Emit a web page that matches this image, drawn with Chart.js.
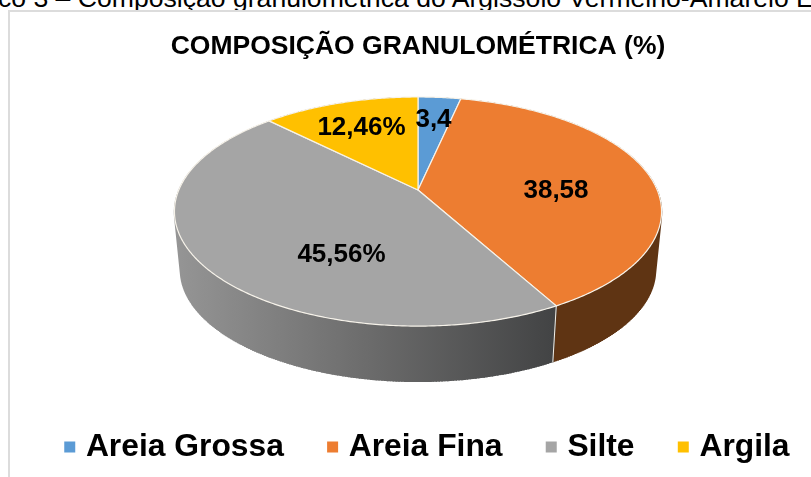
<!DOCTYPE html>
<html lang="pt">
<head>
    <meta charset="UTF-8">
    <title>Composição granulométrica</title>
    <script src="https://cdn.jsdelivr.net/npm/chart.js"></script>
    <style>
        html, body { margin: 0; padding: 0; width: 811px; height: 477px; overflow: hidden; background: #fff; }
        #caption { position: absolute; left: -8px; top: -17px; width: 840px; white-space: nowrap; overflow: hidden;
                   font: 26.6px "Liberation Sans", Arial, sans-serif; color: #000; }
        #frame { position: absolute; left: 8px; top: 10px; width: 830px; height: 480px; box-sizing: border-box;
                 border: 2px solid #dcdcdc; background: #fff; }
        #wrap { position: absolute; left: 0; top: 0; width: 836px; height: 477px; }
    </style>
</head>
<body>
    <div id="caption">ico 3 – Composição granulométrica do Argissolo Vermelho-Amarelo E</div>
    <div id="frame"></div>
    <div id="wrap"><canvas id="pie"></canvas></div>

    <script>
        const categories = ['Areia Grossa', 'Areia Fina', 'Silte', 'Argila'];
        const values = [3.4, 38.58, 45.56, 12.46];
        const valueLabels = ['3,4', '38,58', '45,56%', '12,46%'];
        const topColors = ['#5B9BD5', '#ED7D31', '#A5A5A5', '#FFC000'];

        // perspective disc, fitted to the picture
        const cx = 418, cy = 190, rx = 239.2, ry = 110.5, tilt = 0.188;
        const shrink = 0.975, vanishY = 2566;
        const labelSpots = [[433.5, 120], [556, 191], [341.5, 255], [361.5, 128]];

        function rim(angle, bottom) {
            const u = Math.cos(angle), v = -Math.sin(angle);
            const d = 1 + tilt * v;
            let x = cx + rx * u / d, y = cy - ry * v / d;
            if (bottom) {
                x = cx + shrink * (x - cx);
                y = vanishY + shrink * (y - vanishY);
            }
            return [x, y];
        }

        function traceArc(ctx, a0, a1, bottom, first) {
            const n = Math.max(2, Math.ceil(Math.abs(a1 - a0) / 0.01));
            for (let i = 0; i <= n; i++) {
                const p = rim(a0 + (a1 - a0) * i / n, bottom);
                if (i === 0 && first) ctx.moveTo(p[0], p[1]); else ctx.lineTo(p[0], p[1]);
            }
        }

        function wallFill(ctx, i) {
            const g = ctx.createLinearGradient(176, 0, 556, 0);
            if (i === 2) {
                g.addColorStop(0, '#959595');
                g.addColorStop(0.5, '#6c6c6c');
                g.addColorStop(1, '#424344');
            } else {
                g.addColorStop(0, '#5c3112');
                g.addColorStop(1, '#5f3413');
            }
            return g;
        }

        const disc3d = {
            id: 'disc3d',
            afterLayout(chart) {
                // legend row sits further right and higher than the library puts it
                const lg = chart.legend;
                lg.left += 21; lg.right += 21;
                lg.top -= 4; lg.bottom -= 4;
            },
            beforeDatasetDraw(chart, args) {
                const ctx = chart.ctx;
                const arcs = args.meta.data;
                ctx.save();
                // side walls first, the top face hides the back ones
                arcs.forEach((arc, i) => {
                    ctx.fillStyle = ctx.strokeStyle = wallFill(ctx, i);
                    ctx.lineWidth = 1.5;
                    ctx.beginPath();
                    traceArc(ctx, arc.startAngle, arc.endAngle, false, true);
                    traceArc(ctx, arc.endAngle, arc.startAngle, true, false);
                    ctx.closePath();
                    ctx.fill();
                    // verticals fill out the silhouette at the far left and right
                    ctx.beginPath();
                    for (let a = arc.startAngle; a < arc.endAngle; a += 0.01) {
                        const p = rim(a, false), q = rim(a, true);
                        ctx.moveTo(p[0], p[1]);
                        ctx.lineTo(q[0], q[1]);
                    }
                    ctx.stroke();
                });
                arcs.forEach(arc => {
                    const a = rim(arc.startAngle, false), b = rim(arc.startAngle, true);
                    ctx.beginPath();
                    ctx.moveTo(a[0], a[1]); ctx.lineTo(b[0], b[1]);
                    ctx.strokeStyle = '#f4efe6';
                    ctx.lineWidth = 1;
                    ctx.stroke();
                });
                // top faces
                arcs.forEach((arc, i) => {
                    ctx.beginPath();
                    ctx.moveTo(cx, cy);
                    traceArc(ctx, arc.startAngle, arc.endAngle, false, false);
                    ctx.closePath();
                    ctx.fillStyle = topColors[i];
                    ctx.fill();
                    ctx.strokeStyle = '#f7f3ea';
                    ctx.lineWidth = 1.2;
                    ctx.lineJoin = 'round';
                    ctx.stroke();
                });
                ctx.fillStyle = '#000';
                ctx.font = 'bold 26px "Liberation Sans", Arial, sans-serif';
                ctx.textAlign = 'center';
                ctx.textBaseline = 'middle';
                valueLabels.forEach((t, i) => ctx.fillText(t, labelSpots[i][0], labelSpots[i][1]));
                ctx.restore();
                return false;
            }
        };

        new Chart(document.getElementById('pie'), {
            type: 'pie',
            data: {
                labels: categories,
                datasets: [{ data: values, backgroundColor: topColors, borderWidth: 0 }]
            },
            options: {
                responsive: true,
                maintainAspectRatio: false,
                animation: false,
                plugins: {
                    tooltip: { enabled: false },
                    title: {
                        display: true,
                        text: 'COMPOSIÇÃO GRANULOMÉTRICA (%)',
                        color: '#000',
                        font: { family: '"Liberation Sans", Arial, sans-serif', size: 26.5, weight: 'bold' },
                        padding: { top: 31, bottom: 20 }
                    },
                    legend: {
                        position: 'bottom',
                        align: 'start',
                        labels: {
                            color: '#000',
                            font: { family: '"Liberation Sans", Arial, sans-serif', size: 31.8, weight: 'bold' },
                            usePointStyle: true,
                            pointStyle: 'rect',
                            boxWidth: 0.5,
                            boxHeight: 11,
                            padding: 48.5
                        }
                    }
                }
            },
            plugins: [disc3d]
        });
    </script>
</body>
</html>
